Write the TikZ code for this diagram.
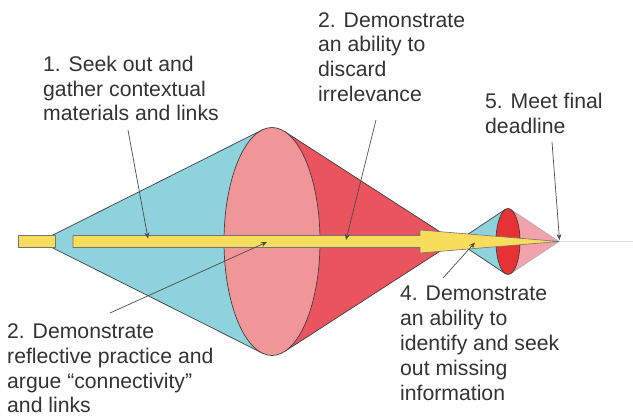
\documentclass[tikz,border=0pt]{standalone}
\usepackage{fontspec}
\setmainfont{Liberation Sans}
\usetikzlibrary{arrows.meta}
\definecolor{cyanc}{HTML}{8DD2DD}
\definecolor{pinkc}{HTML}{F09698}
\definecolor{redc}{HTML}{E9545E}
\definecolor{redd}{HTML}{E63234}
\definecolor{pinkl}{HTML}{F2A2AA}
\definecolor{yel}{HTML}{F8DC5C}
\definecolor{txt}{HTML}{333333}
\begin{document}
\begin{tikzpicture}[x=1pt,y=-1pt,
 conestyle/.style={draw=black!75, line width=0.7pt, line join=round},
 yelstyle/.style={draw=black!55, line width=0.6pt, fill=yel, line join=round},
 lbl/.style={anchor=base west, inner sep=0pt, align=left, text=txt, font=\fontsize{21.2}{24.8}\selectfont},
 pointer/.style={draw=black!70, line width=0.7pt, -{Stealth[length=6pt,width=5pt]}}]
\useasboundingbox (0,0) rectangle (633,417);
% faint axis line
\coordinate (axA) at (556,241.5);
\coordinate (axB) at (633,241.5);
\draw[black!12, line width=0.8pt] (axA) -- (axB);
% big cones
\coordinate (bA) at (40,241.5);
\coordinate (rA) at (455,241.5);
\filldraw[conestyle, fill=cyanc] (bA) -- (262.1,130) -- (262.1,353) -- cycle;
\filldraw[conestyle, fill=redc] (rA) -- (284.6,131.5) -- (284.6,351.5) -- cycle;
\filldraw[conestyle, fill=pinkc] (272,241.5) ellipse [x radius=48, y radius=114];
% small cones
\coordinate (sA) at (457,241.5);
\coordinate (tip) at (559,241.5);
\filldraw[conestyle, fill=cyanc] (sA) -- (505.2,209.4) -- (505.2,273.6) -- cycle;
\filldraw[conestyle, fill=pinkl, draw=black!30] (tip) -- (510.8,209.4) -- (510.8,273.6) -- cycle;
\filldraw[conestyle, fill=redd] (508,241.5) ellipse [x radius=12, y radius=33];
% yellow arrow
\filldraw[yelstyle] (18,235.5) rectangle (55,247.5);
\filldraw[yelstyle] (73,235.5) -- (420,235.5) -- (420,230) -- (tip) -- (420,253) -- (420,247.5) -- (73,247.5) -- cycle;
% labels (anchored at the baseline of their last line)
\node[lbl] (l1) at (43,121) {1. Seek out and\\gather contextual\\materials and links};
\node[lbl] (l2) at (318,101.5) {2. Demonstrate\\an ability to\\discard\\irrelevance};
\node[lbl] (l5) at (485,133.5) {5. Meet final\\deadline};
\node[lbl] (l3) at (7,413) {2. Demonstrate\\reflective practice and\\argue “connectivity”\\and links};
\node[lbl] (l4) at (400,400) {4. Demonstrate\\an ability to\\identify and seek\\out missing\\information};
% pointers
\coordinate (p1s) at (128,130); \coordinate (p1e) at (148,238.5);
\coordinate (p2s) at (110,313); \coordinate (p2e) at (267,242);
\coordinate (p3s) at (376,120); \coordinate (p3e) at (346,240);
\coordinate (p4s) at (443,278); \coordinate (p4e) at (475,242.5);
\coordinate (p5s) at (552,142); \coordinate (p5e) at (559.5,240);
\draw[pointer] (p1s) -- (p1e);
\draw[pointer] (p2s) -- (p2e);
\draw[pointer] (p3s) -- (p3e);
\draw[pointer] (p4s) -- (p4e);
\draw[pointer] (p5s) -- (p5e);
\end{tikzpicture}
\end{document}
